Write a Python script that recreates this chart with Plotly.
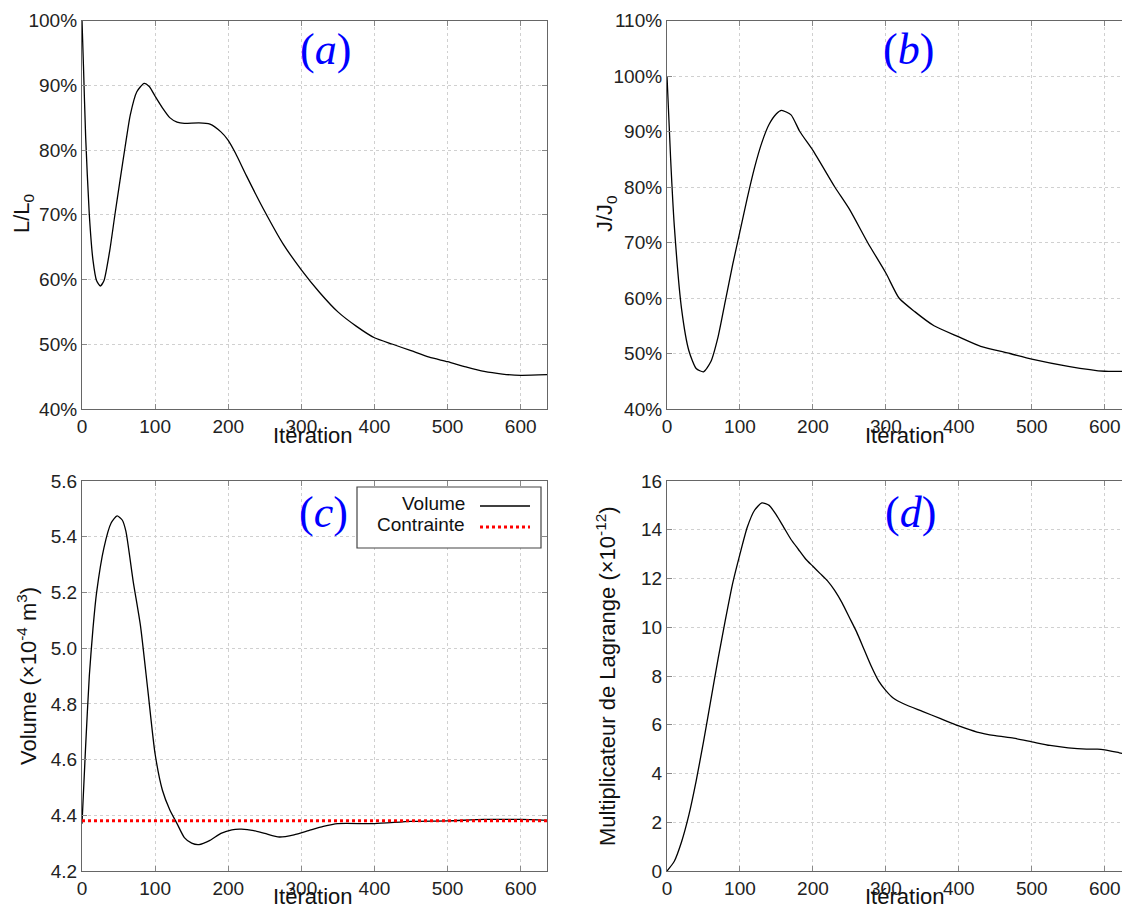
import plotly.graph_objects as go

# ---------------- data ----------------
iter_a = [0, 2, 5, 10, 15, 20, 25, 30, 38, 45, 52, 59, 66, 75, 85, 92, 100, 110, 120, 130, 140,
          160, 175, 190, 200, 210, 225, 250, 275, 300, 325, 350, 375, 400, 425, 450, 475, 500,
          525, 550, 575, 600, 636]
ratio_L = [100, 93, 82, 70, 63, 59.8, 59, 59.8, 64.5, 70, 75.3, 80.5, 85.4, 89, 90.3, 89.8,
           88.3, 86.5, 85, 84.3, 84.1, 84.2, 84, 82.8, 81.5, 79.5, 76, 70.5, 65.5, 61.5, 58,
           55, 52.8, 51, 50, 49, 48, 47.3, 46.5, 45.8, 45.4, 45.2, 45.3]

iter_b = [0, 5, 10, 20, 30, 40, 50, 60, 70, 80, 90, 100, 110, 120, 130, 140, 150, 157, 170,
          182, 200, 230, 250, 275, 300, 318, 340, 366, 400, 430, 470, 500, 550, 600, 636]
ratio_J = [100, 85, 73, 58, 50.5, 47.3, 46.7, 48.5, 53, 59.5, 66, 72, 78, 83.5, 88, 91.3, 93.2,
           93.8, 93, 90, 86.6, 80, 76, 70, 64.5, 60, 57.5, 55, 53, 51.3, 50, 49, 47.7, 46.8, 46.8]

iter_c = [0, 5, 10, 15, 20, 30, 40, 48, 55, 60, 70, 80, 90, 100, 110, 120, 130, 140, 150, 160,
          175, 190, 205, 218, 235, 250, 270, 290, 310, 330, 350, 400, 450, 500, 550, 600, 636]
volume = [4.37, 4.65, 4.9, 5.07, 5.2, 5.36, 5.45, 5.475, 5.46, 5.42, 5.24, 5.08, 4.85, 4.62,
          4.49, 4.42, 4.37, 4.32, 4.3, 4.295, 4.31, 4.335, 4.348, 4.35, 4.345, 4.335, 4.322,
          4.33, 4.345, 4.36, 4.37, 4.37, 4.378, 4.38, 4.385, 4.385, 4.382]
constraint_iter = [0, 636]
constraint = [4.38, 4.38]

iter_d = [0, 10, 20, 30, 40, 50, 60, 70, 80, 90, 100, 110, 120, 130, 140, 150, 160, 170, 180,
          190, 200, 210, 220, 230, 240, 250, 260, 270, 280, 290, 300, 310, 325, 350, 375, 400,
          425, 450, 475, 500, 525, 550, 575, 590, 600, 620, 636]
lagrange = [0, 0.4, 1.2, 2.3, 3.7, 5.3, 7.0, 8.7, 10.3, 11.8, 13.0, 14.1, 14.8, 15.1, 15.0,
            14.6, 14.1, 13.6, 13.2, 12.8, 12.5, 12.2, 11.9, 11.5, 11.0, 10.4, 9.8, 9.1, 8.4,
            7.8, 7.4, 7.1, 6.85, 6.55, 6.25, 5.95, 5.7, 5.55, 5.45, 5.3, 5.15, 5.05, 5.0, 5.0,
            4.97, 4.85, 4.75]

x_ticks = [0, 100, 200, 300, 400, 500, 600]
pct_a = [40, 50, 60, 70, 80, 90, 100]
pct_b = [40, 50, 60, 70, 80, 90, 100, 110]
vol_ticks = [4.2, 4.4, 4.6, 4.8, 5.0, 5.2, 5.4, 5.6]
lag_ticks = [0, 2, 4, 6, 8, 10, 12, 14, 16]

# page has an 8px body margin: figure fills the rest of the 1130x908 window
OFF = 8
W, H = 1130 - OFF, 908 - OFF


def px(x):
    return (x - OFF) / W


def py(y):
    return 1 - (y - OFF) / H


FONT = "Liberation Sans, Arial, sans-serif"
TICKFONT = dict(family=FONT, size=19, color="#222")

fig = go.Figure()

line_style = dict(color="black", width=1.3, shape="spline", smoothing=0.6)
fig.add_trace(go.Scatter(x=iter_a, y=ratio_L, mode="lines", line=line_style,
                         xaxis="x", yaxis="y", showlegend=False, name="L/L0"))
fig.add_trace(go.Scatter(x=iter_b, y=ratio_J, mode="lines", line=line_style,
                         xaxis="x2", yaxis="y2", showlegend=False, name="J/J0"))
fig.add_trace(go.Scatter(x=iter_c, y=volume, mode="lines", line=line_style,
                         xaxis="x3", yaxis="y3", showlegend=False, name="Volume"))
fig.add_trace(go.Scatter(x=constraint_iter, y=constraint, mode="lines",
                         line=dict(color="red", width=3, dash="dot"),
                         xaxis="x3", yaxis="y3", showlegend=False, name="Contrainte"))
fig.add_trace(go.Scatter(x=iter_d, y=lagrange, mode="lines", line=line_style,
                         xaxis="x4", yaxis="y4", showlegend=False, name="Lagrange"))

ax_common = dict(showline=True, linecolor="#666", linewidth=1.2, mirror="allticks",
                 ticks="inside", ticklen=5, tickcolor="#888", showgrid=True,
                 gridcolor="#d0d0d0", griddash="dot", gridwidth=1, zeroline=False,
                 tickfont=TICKFONT, automargin=False)

xa = dict(ax_common, tickvals=x_ticks, range=[0, 636])
right_range = [0, 636 * (1130 - 667) / (1131 - 667)]

fig.update_layout(
    template="none",
    width=W, height=H, margin=dict(l=0, r=0, t=0, b=0),
    paper_bgcolor="white", plot_bgcolor="white",
    xaxis=dict(xa, domain=[px(82), px(547)], anchor="y"),
    yaxis=dict(ax_common, domain=[py(409), py(20.5)], anchor="x", range=[40, 100],
               tickvals=pct_a, ticktext=[f"{v}%" for v in pct_a]),
    xaxis2=dict(xa, domain=[px(667), 1.0], anchor="y2", range=right_range),
    yaxis2=dict(ax_common, domain=[py(409), py(20.5)], anchor="x2", range=[40, 110],
                tickvals=pct_b, ticktext=[f"{v}%" for v in pct_b]),
    xaxis3=dict(xa, domain=[px(82), px(547)], anchor="y3"),
    yaxis3=dict(ax_common, domain=[py(871), py(481)], anchor="x3", range=[4.2, 5.6],
                tickvals=vol_ticks, ticktext=[f"{v:.1f}" for v in vol_ticks]),
    xaxis4=dict(xa, domain=[px(667), 1.0], anchor="y4", range=right_range),
    yaxis4=dict(ax_common, domain=[py(871), py(481)], anchor="x4", range=[0, 16],
                tickvals=lag_ticks),
)

ann = []
# panel labels
for lab, x, y in [("a", 325, 50), ("b", 908, 50), ("c", 323, 512), ("d", 910, 512)]:
    ann.append(dict(text=f"(<i>{lab}</i>)", x=px(x), y=py(y), xref="paper", yref="paper",
                    showarrow=False, xanchor="center", yanchor="middle",
                    font=dict(family="Liberation Serif, DejaVu Serif, serif", size=44,
                              color="blue")))
# x titles
TFONT = dict(family=FONT, size=22, color="#111")
for x, y in [(313, 435), (905, 435), (313, 896), (905, 896)]:
    ann.append(dict(text="Itération", x=px(x), y=py(y), xref="paper", yref="paper",
                    showarrow=False, xanchor="center", yanchor="middle", font=TFONT))
# y titles
for t, x, y in [("L/L<sub>0</sub>", 23, 214), ("J/J<sub>0</sub>", 606, 214),
                ("Volume (×10<sup>-4</sup> m<sup>3</sup>)", 27, 676),
                ("Multiplicateur de Lagrange (×10<sup>-12</sup>)", 606, 676)]:
    ann.append(dict(text=t, x=px(x), y=py(y), xref="paper", yref="paper", textangle=-90,
                    showarrow=False, xanchor="center", yanchor="middle", font=TFONT))

# legend (panel c)
LFONT = dict(family=FONT, size=19, color="#111")
ann.append(dict(text="Volume", x=px(467), y=py(503), xref="paper", yref="paper",
                showarrow=False, xanchor="right", yanchor="middle", font=LFONT))
ann.append(dict(text="Contrainte", x=px(467), y=py(524), xref="paper", yref="paper",
                showarrow=False, xanchor="right", yanchor="middle", font=LFONT))
shapes = [
    dict(type="rect", xref="paper", yref="paper", x0=px(357), x1=px(541), y0=py(548),
         y1=py(487), line=dict(color="#444", width=1.2), fillcolor="white", layer="above"),
    dict(type="line", xref="paper", yref="paper", x0=px(480), x1=px(530), y0=py(506),
         y1=py(506), line=dict(color="black", width=1.3), layer="above"),
    dict(type="line", xref="paper", yref="paper", x0=px(480), x1=px(530), y0=py(527),
         y1=py(527), line=dict(color="red", width=3, dash="dot"), layer="above"),
]
fig.update_layout(annotations=ann, shapes=shapes)

fig.write_html("out.html")
